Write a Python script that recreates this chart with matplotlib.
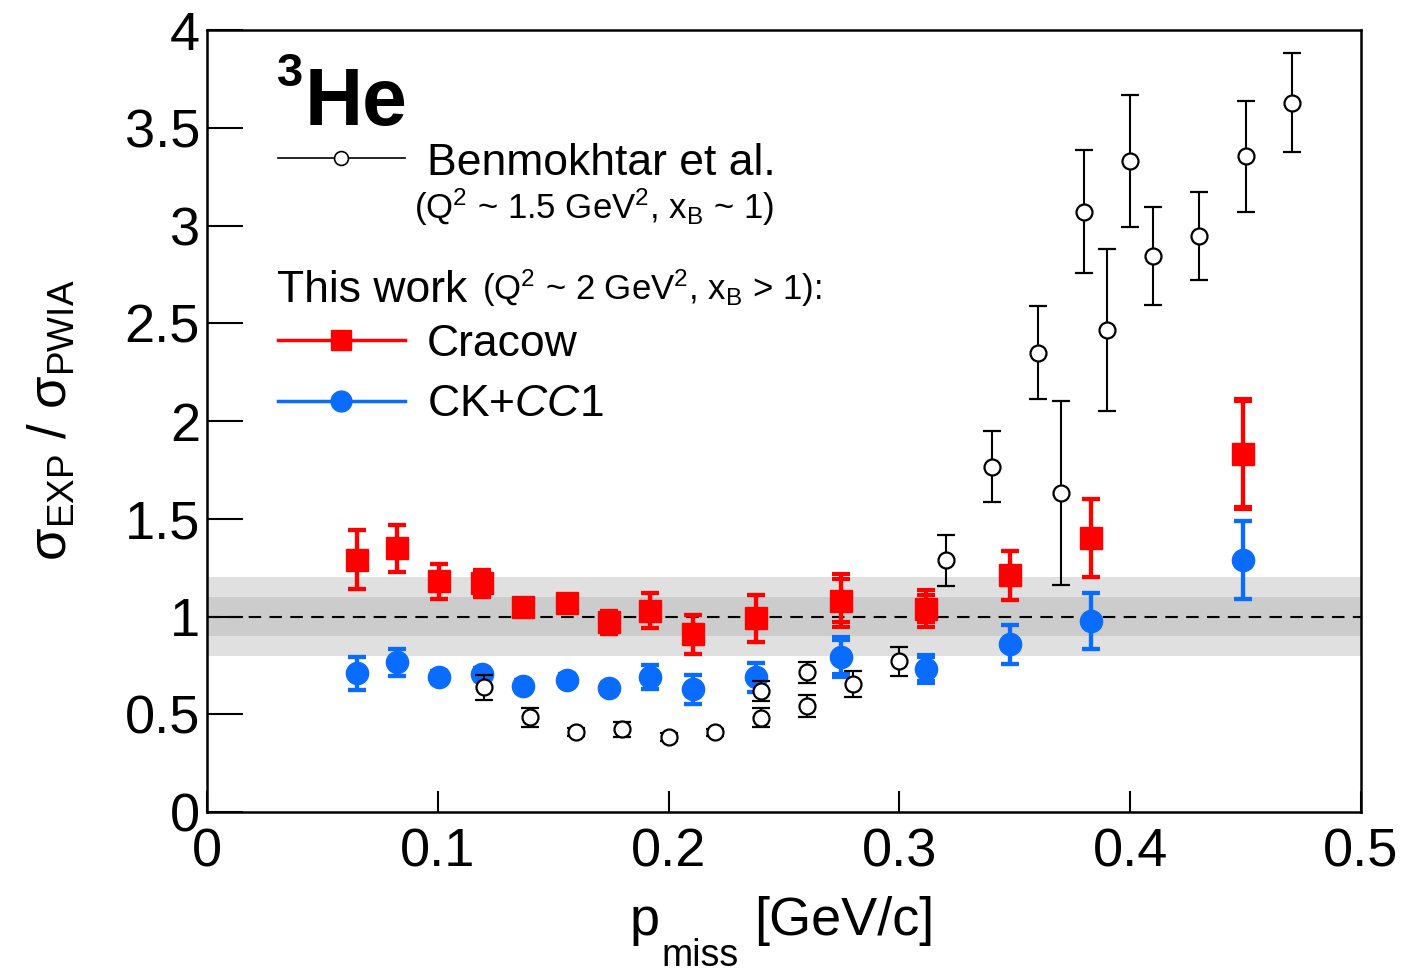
import matplotlib
matplotlib.use("Agg")
import matplotlib.pyplot as plt
from matplotlib.lines import Line2D

plt.rcParams['font.family'] = ['Liberation Sans', 'DejaVu Sans']
plt.rcParams['mathtext.fontset'] = 'custom'
plt.rcParams['mathtext.rm'] = 'Liberation Sans'
plt.rcParams['mathtext.it'] = 'Liberation Sans:italic'
plt.rcParams['mathtext.bf'] = 'Liberation Sans:bold'
plt.rcParams['mathtext.sf'] = 'Liberation Sans'

# ---------------- data ----------------
x_this = [0.065, 0.0823, 0.1005, 0.119, 0.137, 0.156, 0.174, 0.192, 0.2106,
          0.238, 0.2747, 0.3115, 0.348, 0.383, 0.449]
y_cracow = [1.29, 1.35, 1.18, 1.17, 1.05, 1.07, 0.97, 1.03, 0.91, 0.99,
            1.08, 1.04, 1.21, 1.40, 1.83]
e_cracow = [0.15, 0.12, 0.09, 0.07, 0.03, 0.03, 0.06, 0.09, 0.10, 0.12,
            0.11, 0.07, 0.125, 0.20, 0.27]
e_cracow_tot = [0.15, 0.12, 0.09, 0.07, 0.03, 0.03, 0.06, 0.09, 0.10, 0.12,
                0.135, 0.095, 0.125, 0.20, 0.28]
y_ck = [0.71, 0.765, 0.69, 0.705, 0.645, 0.675, 0.632, 0.69, 0.628, 0.688,
        0.793, 0.731, 0.858, 0.977, 1.29]
e_ck = [0.085, 0.07, 0.03, 0.03, 0.03, 0.03, 0.03, 0.06, 0.075, 0.075,
        0.085, 0.06, 0.10, 0.145, 0.20]
e_ck_tot = [0.085, 0.07, 0.03, 0.03, 0.03, 0.03, 0.03, 0.06, 0.075, 0.075,
            0.10, 0.07, 0.10, 0.145, 0.20]

x_bm = [0.12, 0.14, 0.16, 0.18, 0.20, 0.22, 0.24, 0.24, 0.26, 0.26, 0.28, 0.30,
        0.32, 0.34, 0.36, 0.37, 0.38, 0.39, 0.40, 0.41, 0.43, 0.45, 0.47]
y_bm = [0.637, 0.484, 0.41, 0.424, 0.385, 0.407, 0.62, 0.483, 0.714, 0.543,
        0.654, 0.77, 1.287, 1.767, 2.35, 1.63, 3.07, 2.467, 3.33, 2.843,
        2.948, 3.354, 3.627]
e_bm = [0.065, 0.05, 0.02, 0.038, 0.02, 0.02, 0.05, 0.05, 0.055, 0.055,
        0.065, 0.075, 0.13, 0.18, 0.237, 0.47, 0.315, 0.415, 0.337, 0.25,
        0.225, 0.283, 0.253]

band_outer = (0.8, 1.2)
band_inner = (0.9, 1.1)

x_ticks = [0, 0.1, 0.2, 0.3, 0.4, 0.5]
x_ticklabels = ["0", "0.1", "0.2", "0.3", "0.4", "0.5"]
y_ticks = [0, 0.5, 1, 1.5, 2, 2.5, 3, 3.5, 4]
y_ticklabels = ["0", "0.5", "1", "1.5", "2", "2.5", "3", "3.5", "4"]

RED = '#ff0000'
BLUE = '#0a6cff'

W, H = 1403, 972
fig = plt.figure(figsize=(W / 100, H / 100), dpi=100)
ax = fig.add_axes([207 / W, 1 - 812 / H, (1361 - 207) / W, (812 - 30) / H])


def px(x, y):
    return (x / W, 1 - y / H)


ax.set_xlim(0, 0.5)
ax.set_ylim(0, 4)

ax.axhspan(*band_outer, color='#e0e0e0', lw=0, zorder=0)
ax.axhspan(*band_inner, color='#cccccc', lw=0, zorder=0.5)
ax.axhline(1.0, color='black', ls=(0, (6, 4)), lw=1.5, zorder=1)

# Cracow
ax.errorbar(x_this, y_cracow, yerr=e_cracow_tot, fmt='none', ecolor=RED,
            elinewidth=3, capsize=6.5, capthick=3, zorder=3)
ax.errorbar(x_this, y_cracow, yerr=e_cracow, fmt='s', color=RED, ms=15.5,
            mec=RED, elinewidth=3, capsize=6.5, capthick=3, zorder=3)
# CK+CC1
ax.errorbar(x_this, y_ck, yerr=e_ck_tot, fmt='none', ecolor=BLUE,
            elinewidth=3, capsize=6.5, capthick=3, zorder=4)
ax.errorbar(x_this, y_ck, yerr=e_ck, fmt='o', color=BLUE, ms=16,
            mec=BLUE, elinewidth=3, capsize=6.5, capthick=3, zorder=4)
# Benmokhtar
ax.errorbar(x_bm, y_bm, yerr=e_bm, fmt='o', mfc='white', mec='black',
            mew=1.6, ms=11.5, ecolor='black', elinewidth=1.5, capsize=6.5,
            capthick=1.5, zorder=5)

ax.set_xticks(x_ticks)
ax.set_xticklabels(x_ticklabels)
ax.set_yticks(y_ticks)
ax.set_yticklabels(y_ticklabels)
ax.tick_params(axis='both', direction='in', width=1.5, labelsize=39)
ax.tick_params(axis='y', length=26, pad=5)
ax.tick_params(axis='x', length=15, pad=11)
for s in ax.spines.values():
    s.set_linewidth(1.8)

# y label
fig.text(*px(52, 420), r'σ$_\mathrm{EXP}$ / σ$_\mathrm{PWIA}$', rotation=90,
         ha='center', va='center', fontsize=38)
# x label (p, subscript "miss", unit)
fig.text(*px(630, 935), 'p', ha='left', va='baseline', fontsize=39)
fig.text(*px(661, 966), 'miss', ha='left', va='baseline', fontsize=27)
fig.text(*px(754, 935), '[GeV/c]', ha='left', va='baseline', fontsize=39)

# title-like label
fig.text(*px(277, 86), '3', fontsize=34, fontweight='bold', va='baseline', ha='left')
fig.text(*px(305, 125), 'He', fontsize=58, fontweight='bold', va='baseline', ha='left')

# manual legend
fig.add_artist(Line2D([278 / W, 405 / W], [1 - 158 / H] * 2, color='black', lw=1.2))
fig.add_artist(Line2D([341 / W], [1 - 158 / H], marker='o', mfc='white',
                      mec='black', mew=1.2, ms=10, ls='none'))
fig.text(*px(427, 175), 'Benmokhtar et al.', fontsize=32, va='baseline')
fig.text(*px(414, 219), r'(Q$^\mathrm{2}$ ~ 1.5 GeV$^\mathrm{2}$, x$_\mathrm{B}$ ~ 1)',
         fontsize=25, va='baseline')
fig.text(*px(277, 302), 'This work', fontsize=32, va='baseline')
fig.text(*px(482, 300), r'(Q$^\mathrm{2}$ ~ 2 GeV$^\mathrm{2}$, x$_\mathrm{B}$ > 1):',
         fontsize=25, va='baseline')

fig.add_artist(Line2D([278 / W, 405 / W], [1 - 340 / H] * 2, color=RED, lw=2.5))
fig.add_artist(Line2D([341 / W], [1 - 340 / H], marker='s', color=RED, ms=14, ls='none'))
fig.text(*px(427, 356), 'Cracow', fontsize=32, va='baseline')

fig.add_artist(Line2D([278 / W, 405 / W], [1 - 401 / H] * 2, color=BLUE, lw=2.5))
fig.add_artist(Line2D([341 / W], [1 - 401 / H], marker='o', color=BLUE, ms=15, ls='none'))
fig.text(*px(427, 416), r'CK+$\mathit{CC1}$', fontsize=32, va='baseline')

fig.savefig('out.png', dpi=100)
